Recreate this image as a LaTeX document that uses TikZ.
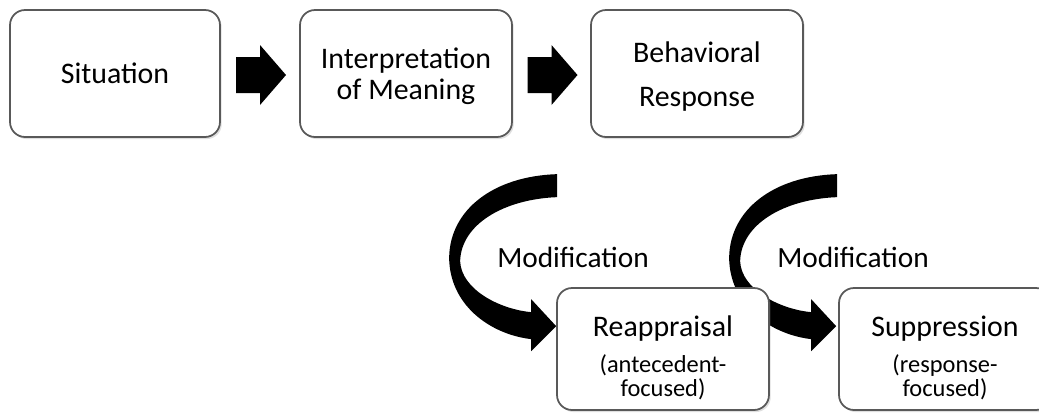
\documentclass[tikz,border=0pt]{standalone}
\usepackage{fontspec}
\setmainfont{Carlito}
\usetikzlibrary{calc,shadows,backgrounds}
\definecolor{boxline}{rgb}{0.35,0.35,0.35}

% block arrow between two stages, centred at #1
\newcommand{\steparrow}[1]{%
  \fill[black, shift={(#1)}] (-25,-18) -- (-1,-18) -- (-1,-30) -- (25,0)
    -- (-1,30) -- (-1,18) -- (-25,18) -- cycle;}
% curved modification arrow, tip at #1
\newcommand{\modarrow}[1]{%
  \fill[black, shift={(#1)}] (1,-152) .. controls (-62,-150) and (-106,-117) .. (-107,-69)
    .. controls (-107,-22) and (-67,8) .. (-25,13) -- (-25,25) -- (0,0) -- (-25,-27) -- (-25,-14)
    .. controls (-57,-17) and (-95,-37) .. (-96,-65)
    .. controls (-95,-102) and (-52,-127) .. (1,-129) -- cycle;}
\newcommand{\subline}{\fontsize{13.9pt}{12.5pt}\selectfont}

\begin{document}
\begin{tikzpicture}[x=0.02cm, y=-0.02cm, >=stealth,
    stage/.style={draw=boxline, line width=1pt, fill=white, rounded corners=0.3cm,
      minimum width=4.24cm, minimum height=2.54cm, align=center,
      drop shadow={shadow xshift=1pt, shadow yshift=-1.2pt, opacity=0.25}},
    mainfont/.style={font=\fontsize{17pt}{18pt}\selectfont}]
        \useasboundingbox (0,0) rectangle (1039,414);
        \clip (0,0) rectangle (1039,414);
        \node [stage, mainfont, minimum width=4.2cm] (sit) at (115,73.5) {Situation};
        \node [stage, mainfont] (interp) at (406,73.5) {\rule{0pt}{15pt}Interpretation\\of Meaning};
        \node [stage, mainfont] (behav) at (697,73.5) {\rule{0pt}{15pt}Behavioral\\[7pt]Response};

        \steparrow{$(sit.east)!0.5!(interp.west)+(1,1.5)$}
        \steparrow{$(interp.east)!0.5!(behav.west)+(1,1.5)$}

        \node [stage, mainfont, minimum height=2.44cm] (reap) at (663,349)
            {\rule{0pt}{22pt}Reappraisal\\[2.5pt]\subline (antecedent-\\[-4.5pt]\subline focused)};
        \node [stage, mainfont, minimum height=2.44cm] (supp) at (945,349)
            {\rule{0pt}{22pt}Suppression\\[2.5pt]\subline (response-\\[-4.5pt]\subline focused)};

        \begin{scope}[on background layer]
            \modarrow{$(reap.north west)+(0,39)$}
            \modarrow{$(supp.north west)+(-2,39)$}
        \end{scope}

        \node [font=\fontsize{16.7pt}{18pt}\selectfont] (mod1) at (573,257) {Modification};
        \node [font=\fontsize{16.7pt}{18pt}\selectfont] (mod2) at (853,257) {Modification};
    \end{tikzpicture}
\end{document}
